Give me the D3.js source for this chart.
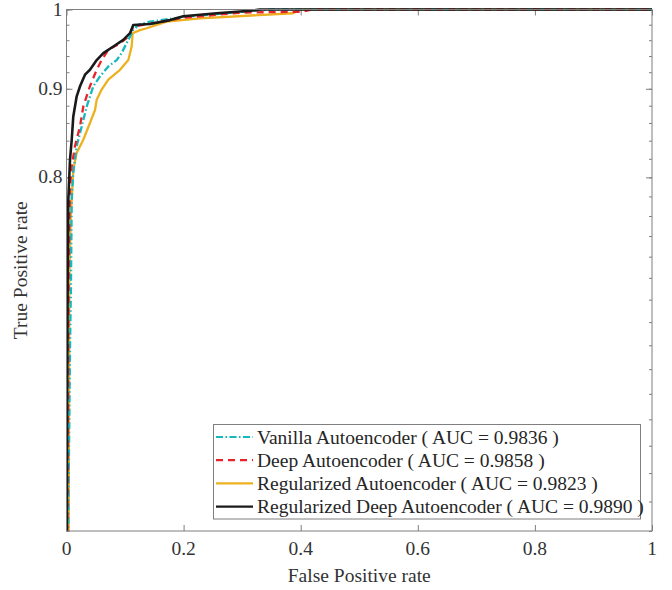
<!DOCTYPE html>
<html><head><meta charset="utf-8">
<script src="https://cdn.jsdelivr.net/npm/d3@7"></script>
<style>body{margin:0;background:#fff}svg{display:block}</style>
</head><body><svg id="c" width="672" height="590"></svg>
<script>
const seriesNames = ["Vanilla Autoencoder ( AUC = 0.9836 )","Deep Autoencoder ( AUC = 0.9858 )","Regularized Autoencoder ( AUC = 0.9823 )","Regularized Deep Autoencoder ( AUC = 0.9890 )"];
const vanillaFPR = [0,0.003,0.0043,0.006,0.0077,0.0089,0.0116,0.0174,0.026,0.0345,0.0458,0.0572,0.0714,0.0857,0.094,0.1085,0.114,0.1226,0.1426,0.2,0.3,0.35,1];
const vanillaTPR = [0.3,0.5,0.558,0.637,0.696,0.777,0.805,0.834,0.856,0.879,0.903,0.915,0.927,0.935,0.9436,0.9646,0.973,0.9797,0.984,0.99,0.997,1,1];
const deepFPR = [0,0.0015,0.003,0.0045,0.006,0.0089,0.0145,0.023,0.0287,0.040,0.0516,0.060,0.0714,0.0914,0.1056,0.114,0.14,0.2,0.3,0.4,0.42,1];
const deepTPR = [0.3,0.5,0.65,0.74,0.7907,0.812,0.834,0.856,0.879,0.903,0.923,0.935,0.948,0.956,0.9646,0.9775,0.981,0.989,0.996,0.997,1,1];
const regFPR = [0,0.0037,0.0048,0.0072,0.0089,0.0116,0.0174,0.0287,0.040,0.0487,0.0516,0.060,0.0714,0.0914,0.1056,0.1113,0.113,0.1255,0.137,0.171,0.228,0.387,0.4,1];
const regTPR = [0.3,0.5,0.696,0.76,0.777,0.808,0.8265,0.841,0.86,0.875,0.887,0.899,0.911,0.923,0.935,0.952,0.969,0.973,0.9754,0.984,0.9884,0.995,1,1];
const regDeepFPR = [0,0.0005,0.001,0.002,0.0031,0.006,0.0089,0.0116,0.0174,0.0231,0.0316,0.0401,0.0516,0.0629,0.08,0.097,0.1085,0.114,0.1426,0.177,0.1995,0.2565,0.319,0.33,1];
const regDeepTPR = [0.3,0.5,0.6,0.7,0.777,0.819,0.841,0.8675,0.891,0.903,0.917,0.923,0.935,0.9436,0.952,0.9604,0.969,0.9797,0.981,0.986,0.991,0.995,0.9987,1,1];
const xTicks = [0,0.2,0.4,0.6,0.8,1];
const yTickLabels = [0.8,0.9,1];
const yMinorTicks = d3.range(25,51).map(d=>d/50);

const colors = ["#14b8be","#e8232a","#edb120","#1a1a1a"];
const dashes = ["7,2.5,1.5,2.5","7,5",null,null];

const svg = d3.select("#c");
const L=66.5,R=652,T=9.5,B=531;
const x = d3.scaleLinear().domain([0,1]).range([L,R]);
const y = d3.scaleLog().domain([0.5,1]).range([B,T]);
const font = "'Liberation Serif','Times New Roman',serif";
const axisCol="#7f7f7f", txtCol="#333";

svg.append("defs").append("clipPath").attr("id","clip").append("rect")
  .attr("x",L).attr("y",T-2).attr("width",R-L).attr("height",B-T+2);

const gx = svg.append("g").attr("transform",`translate(0,${B})`)
  .call(d3.axisBottom(x).tickValues(xTicks).tickSize(-6).tickFormat(""));
const gxt = svg.append("g").attr("transform",`translate(0,${T})`)
  .call(d3.axisTop(x).tickValues(xTicks).tickSize(-6).tickFormat(""));
const gy = svg.append("g").attr("transform",`translate(${L},0)`)
  .call(d3.axisLeft(y).tickValues(yMinorTicks).tickSize(-3).tickFormat(""));
const gy2 = svg.append("g").attr("transform",`translate(${L},0)`)
  .call(d3.axisLeft(y).tickValues(yTickLabels).tickSize(-6).tickFormat(""));
const gyr = svg.append("g").attr("transform",`translate(${R},0)`)
  .call(d3.axisRight(y).tickValues(yMinorTicks).tickSize(-3).tickFormat(""));
const gyr2 = svg.append("g").attr("transform",`translate(${R},0)`)
  .call(d3.axisRight(y).tickValues(yTickLabels).tickSize(-6).tickFormat(""));
[gx,gxt,gy,gy2,gyr,gyr2].forEach(g=>{g.select(".domain").remove();g.selectAll("line").attr("stroke",axisCol).attr("stroke-width",1);});

svg.append("g").selectAll("text").data(xTicks).join("text")
  .attr("x",d=>x(d)).attr("y",B+24).attr("text-anchor","middle")
  .attr("font-family",font).attr("font-size",19.5).attr("fill",txtCol)
  .text(d=>d3.format("~g")(d));
svg.append("g").selectAll("text").data(yTickLabels).join("text")
  .attr("x",L-4).attr("y",d=>y(d)+6).attr("text-anchor","end")
  .attr("font-family",font).attr("font-size",19.5).attr("fill",txtCol)
  .text(d=>d3.format("~g")(d));
svg.append("text").attr("x",(L+R)/2).attr("y",582).attr("text-anchor","middle")
  .attr("font-family",font).attr("font-size",19.5).attr("fill",txtCol).text("False Positive rate");
svg.append("text").attr("transform",`translate(27,${(T+B)/2}) rotate(-90)`).attr("text-anchor","middle")
  .attr("font-family",font).attr("font-size",19.5).attr("fill",txtCol).text("True Positive rate");

const series = [[vanillaFPR,vanillaTPR],[deepFPR,deepTPR],[regFPR,regTPR],[regDeepFPR,regDeepTPR]];
const line = d3.line().x(d=>x(d[0])).y(d=>y(Math.max(d[1],0.3)));
const order=[2,0,1,3];
const gl = svg.append("g").attr("clip-path","url(#clip)");
order.forEach(i=>{
  const pts = series[i][0].map((v,k)=>[v,series[i][1][k]]);
  gl.append("path").datum(pts).attr("d",line).attr("fill","none")
    .attr("stroke",colors[i]).attr("stroke-width",i===3?2.6:2.3)
    .attr("stroke-dasharray",dashes[i]).attr("stroke-linejoin","round");
});

svg.append("rect").attr("x",L).attr("y",T).attr("width",R-L).attr("height",B-T)
  .attr("fill","none").attr("stroke",axisCol).attr("stroke-width",1);

const lg = svg.append("g");
lg.append("rect").attr("x",213.5).attr("y",424.5).attr("width",427).attr("height",94.5)
  .attr("fill","#fff").attr("stroke",axisCol).attr("stroke-width",1);
seriesNames.forEach((n,i)=>{
  const yy = 437+i*23.2;
  lg.append("line").attr("x1",216).attr("x2",253).attr("y1",yy).attr("y2",yy)
    .attr("stroke",colors[i]).attr("stroke-width",2.2).attr("stroke-dasharray",dashes[i]);
  lg.append("text").attr("x",257).attr("y",yy+6.5).attr("font-family",font).attr("font-size",19.5)
    .attr("fill","#262626").text(n);
});
</script></body></html>
